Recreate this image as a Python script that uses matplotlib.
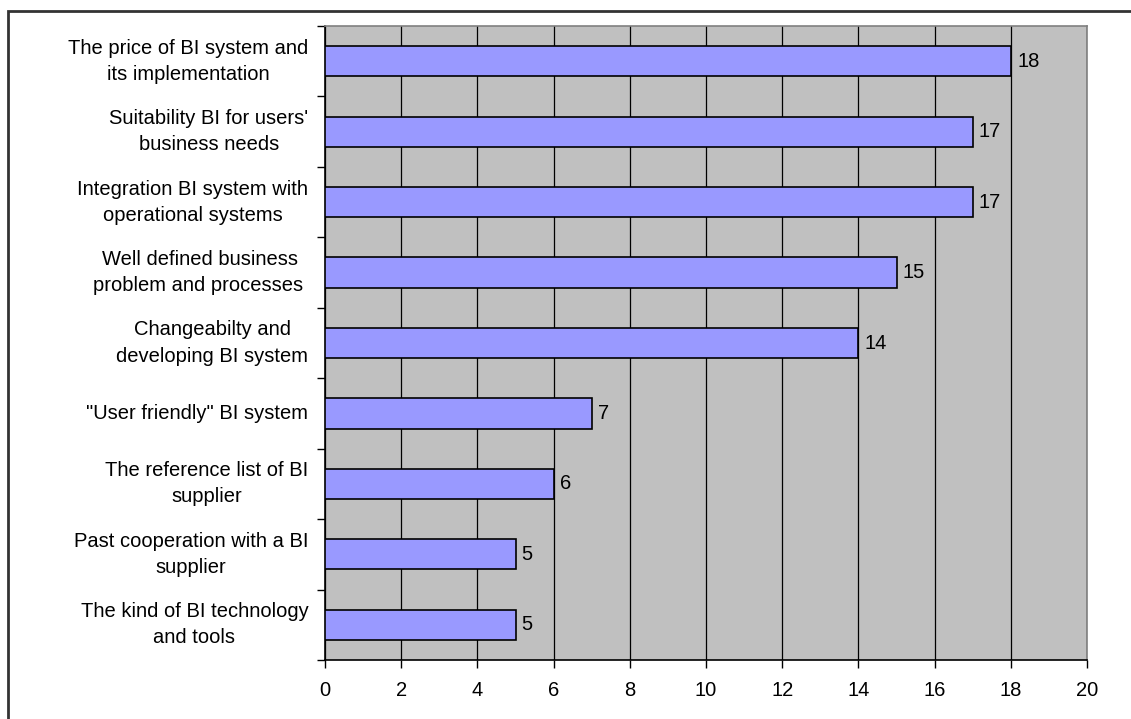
import matplotlib
matplotlib.use("Agg")
import matplotlib.pyplot as plt
from matplotlib.patches import Rectangle
from matplotlib.ticker import FixedLocator

categories = [
    "The price of BI system and\nits implementation",
    "Suitability BI for users'\nbusiness needs",
    "Integration BI system with\noperational systems",
    "Well defined business\nproblem and processes ",
    "Changeabilty and\ndeveloping BI system",
    "\"User friendly\" BI system",
    "The reference list of BI\nsupplier",
    "Past cooperation with a BI\nsupplier",
    "The kind of BI technology\nand tools",
]
values = [18, 17, 17, 15, 14, 7, 6, 5, 5]
x_ticks = [0, 2, 4, 6, 8, 10, 12, 14, 16, 18, 20]

plt.rcParams['font.family'] = ['Liberation Sans', 'DejaVu Sans']
FS = 14.5

fig = plt.figure(figsize=(11.31, 7.19), dpi=100)
W, H = 1131, 719
ax = fig.add_axes([325 / W, 1 - 660 / H, (1087 - 325) / W, (660 - 26) / H])
ax.set_facecolor('#C0C0C0')

n = len(categories)
ypos = list(range(n))
ax.barh(ypos, values, height=0.43, color='#9999FF', edgecolor='black',
        linewidth=1.2, zorder=3)
for y, v in zip(ypos, values):
    ax.annotate(str(v), xy=(v, y), xytext=(4.5, 0), textcoords='offset points',
                va='center', ha='left', fontsize=FS, zorder=4)

ax.set_xlim(0, 20)
ax.set_ylim(n - 0.5, -0.5)
ax.set_xticks(x_ticks)
ax.set_xticklabels([str(t) for t in x_ticks], fontsize=FS)
ax.set_yticks(ypos)
ax.set_yticklabels(categories, fontsize=FS, multialignment='center',
                   linespacing=1.47, va='center')
ax.yaxis.set_minor_locator(FixedLocator([i - 0.5 for i in range(n + 1)]))
ax.tick_params(axis='y', which='major', length=0, pad=12)
ax.tick_params(axis='y', which='minor', length=6, width=1, color='black')
ax.tick_params(axis='x', which='major', length=6, width=1, pad=9)

ax.grid(axis='x', color='black', linewidth=0.9, zorder=1)
ax.set_axisbelow(True)
for s in ['left', 'bottom']:
    ax.spines[s].set_color('black')
    ax.spines[s].set_linewidth(1.2)
for s in ['top', 'right']:
    ax.spines[s].set_color('#808080')
    ax.spines[s].set_linewidth(1.2)

# outer chart frame
fig.patches.append(Rectangle((8 / W, -0.1), 1.2, 1 - 11 / H + 0.1,
                             transform=fig.transFigure, fill=False,
                             edgecolor='#333333', linewidth=2))

fig.savefig('out.png', dpi=100)
